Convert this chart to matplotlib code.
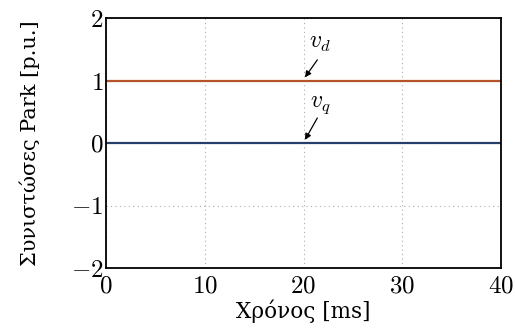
import numpy as np
import matplotlib.pyplot as plt

plt.rcParams['font.family'] = 'serif'
plt.rcParams['font.serif'] = ['DejaVu Serif']
plt.rcParams['mathtext.fontset'] = 'cm'

# data
t = [0, 40]                 # ms
vd = [1, 1]                 # p.u.
vq = [0, 0]                 # p.u.
xticks = [0, 10, 20, 30, 40]
yticks = [-2, -1, 0, 1, 2]

fig = plt.figure(figsize=(5.15, 3.31), dpi=100)
ax = fig.add_axes([106/515, 1-268/331, 395/515, 250/331])

ax.plot(t, vd, color='#b5532a', lw=1.6)
ax.plot(t, vq, color='#27406b', lw=1.6)

ax.set_xlim(0, 40)
ax.set_ylim(-2, 2)
ax.set_xticks(xticks)
ax.set_yticks(yticks)
ax.set_xticklabels(['$%d$' % v for v in xticks], fontsize=18)
ax.set_yticklabels(['$%d$' % v if v >= 0 else '$-%d$' % -v for v in yticks], fontsize=18)
ax.tick_params(length=0)
ax.tick_params(axis='x', pad=5)
ax.tick_params(axis='y', pad=2)
ax.grid(True, linestyle=(0, (1, 3)), color='#aaaaaa', lw=0.8)
for s in ax.spines.values():
    s.set_linewidth(1.3)

arrow = dict(arrowstyle='-|>', color='k', lw=0.9, shrinkA=0, shrinkB=0, mutation_scale=9)
ax.annotate('', xy=(20.15, 1.05), xytext=(21.4, 1.33), arrowprops=arrow)
ax.annotate('', xy=(20.15, 0.05), xytext=(21.4, 0.40), arrowprops=arrow)
ax.text(21.7, 1.6, '$v_d$', fontsize=17, ha='center', va='center')
ax.text(21.7, 0.62, '$v_q$', fontsize=17, ha='center', va='center')

ax.set_xlabel('Χρόνος [ms]', fontsize=15.5, labelpad=1)
ax.set_ylabel('Συνιστώσες Park [p.u.]', fontsize=15, labelpad=22)

fig.savefig('out.png', dpi=100)
